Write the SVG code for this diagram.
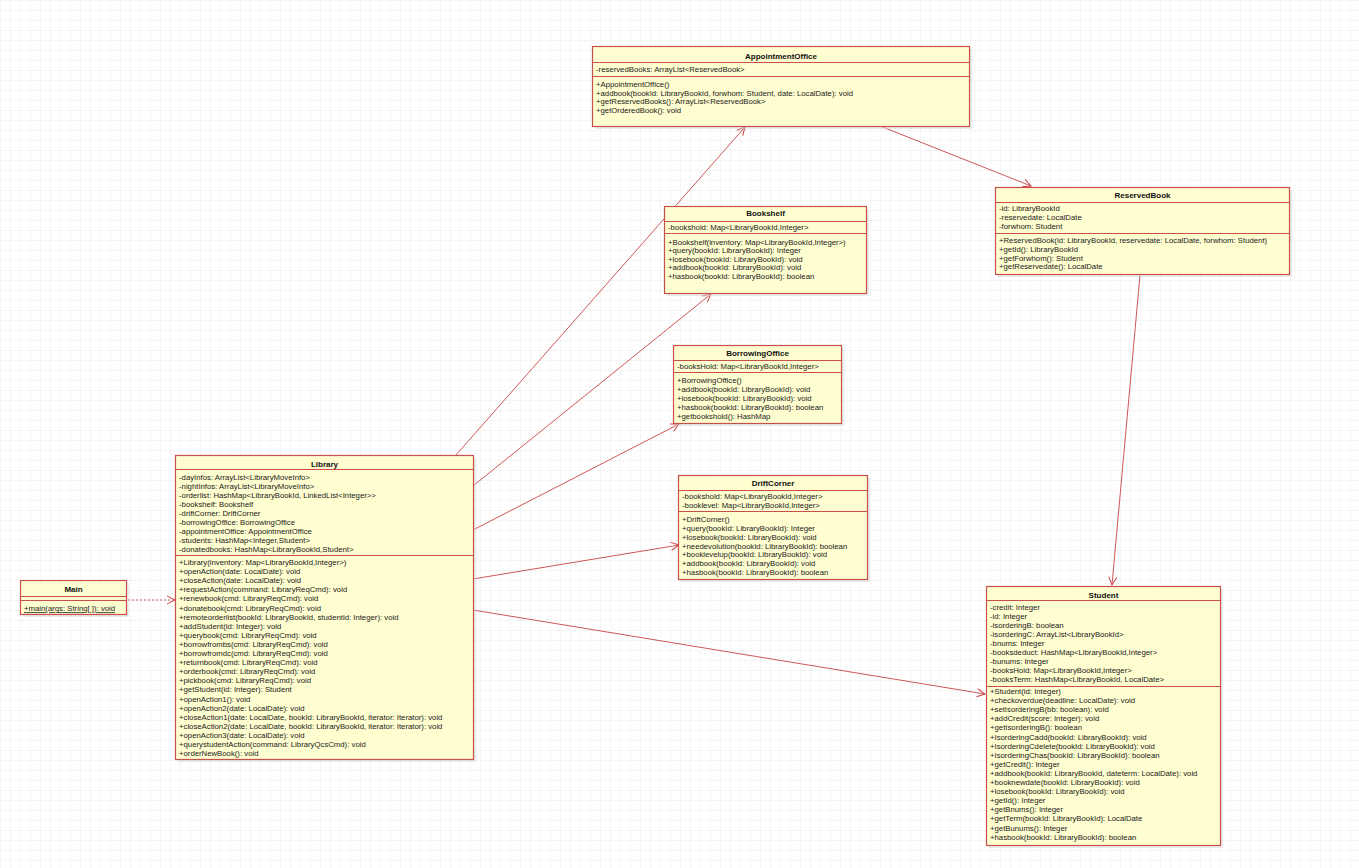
<svg xmlns="http://www.w3.org/2000/svg" width="1359" height="868" viewBox="0 0 1359 868">
<defs>
<pattern id="grid" width="10" height="10" patternUnits="userSpaceOnUse">
<path d="M10 0 L0 0 0 10" fill="none" stroke="#ececec" stroke-width="1"/>
</pattern>
<marker id="open" markerWidth="12" markerHeight="12" refX="9" refY="5" orient="auto" markerUnits="userSpaceOnUse">
<path d="M1 1 L9 5 L1 9" fill="none" stroke="#cc4444" stroke-width="1"/>
</marker>
<style>
.box{fill:#fffed0;stroke:#c94f4f;stroke-width:1.2}
.shadow{fill:#d8d8d8;opacity:0.5}
.sep{stroke:#c94f4f;stroke-width:1}
.t{font-family:"Liberation Sans",Arial,sans-serif;font-size:7.75px;fill:#1a1a1a}
.h{font-family:"Liberation Sans",Arial,sans-serif;font-size:8px;font-weight:bold;fill:#111;text-anchor:middle}
.edge{fill:none;stroke:#cc4444;stroke-width:0.9}
.dash{stroke-dasharray:2,2}
</style>
</defs>
<rect width="1359" height="868" fill="#ffffff"/>
<rect width="1359" height="868" fill="url(#grid)"/>

<g id="connectors">
<line class="edge" x1="456" y1="455" x2="745" y2="127" marker-end="url(#open)"/>
<line class="edge" x1="473" y1="486" x2="711" y2="294" marker-end="url(#open)"/>
<line class="edge" x1="473" y1="530" x2="679" y2="424" marker-end="url(#open)"/>
<line class="edge" x1="473" y1="579" x2="679" y2="545" marker-end="url(#open)"/>
<line class="edge" x1="473" y1="610" x2="985" y2="694" marker-end="url(#open)"/>
<line class="edge" x1="880" y1="126" x2="1031" y2="186" marker-end="url(#open)"/>
<line class="edge" x1="1140" y1="275" x2="1112" y2="585" marker-end="url(#open)"/>
<line class="edge dash" x1="128" y1="600" x2="175" y2="600" marker-end="url(#open)"/>
</g>

<g id="AppointmentOffice">
<rect class="shadow" x="595" y="49" width="377" height="80"/>
<rect class="box" x="592.5" y="46.5" width="377" height="80"/>
<text class="h" x="781" y="58.5">AppointmentOffice</text>
<line class="sep" x1="592.5" y1="62.5" x2="969.5" y2="62.5"/>
<text class="t" x="596" y="71.7">-reservedBooks: ArrayList&lt;ReservedBook&gt;</text>
<line class="sep" x1="592.5" y1="76.5" x2="969.5" y2="76.5"/>
<text class="t" x="596" y="86.7">+AppointmentOffice()</text>
<text class="t" x="596" y="95.7">+addbook(bookId: LibraryBookId, forwhom: Student, date: LocalDate): void</text>
<text class="t" x="596" y="104.4">+getReservedBooks(): ArrayList&lt;ReservedBook&gt;</text>
<text class="t" x="596" y="113">+getOrderedBook(): void</text>
</g>

<g id="ReservedBook">
<rect class="shadow" x="998" y="190" width="294" height="87"/>
<rect class="box" x="995.5" y="187.5" width="294" height="87"/>
<text class="h" x="1142.5" y="197.5">ReservedBook</text>
<line class="sep" x1="995.5" y1="202.5" x2="1289.5" y2="202.5"/>
<text class="t" x="999" y="210.7">-id: LibraryBookId</text>
<text class="t" x="999" y="219.7">-reservedate: LocalDate</text>
<text class="t" x="999" y="228.7">-forwhom: Student</text>
<line class="sep" x1="995.5" y1="233.5" x2="1289.5" y2="233.5"/>
<text class="t" x="999" y="243.4">+ReservedBook(id: LibraryBookId, reservedate: LocalDate, forwhom: Student)</text>
<text class="t" x="999" y="252">+getId(): LibraryBookId</text>
<text class="t" x="999" y="260.7">+getForwhom(): Student</text>
<text class="t" x="999" y="269.4">+getReservedate(): LocalDate</text>
</g>

<g id="Bookshelf">
<rect class="shadow" x="667" y="209" width="202" height="87"/>
<rect class="box" x="664.5" y="206.5" width="202" height="87"/>
<text class="h" x="765.5" y="215.8">Bookshelf</text>
<line class="sep" x1="664.5" y1="221.5" x2="866.5" y2="221.5"/>
<text class="t" x="668" y="229.7">-bookshold: Map&lt;LibraryBookId,Integer&gt;</text>
<line class="sep" x1="664.5" y1="233.5" x2="866.5" y2="233.5"/>
<text class="t" x="668" y="244.7">+Bookshelf(inventory: Map&lt;LibraryBookId,Integer&gt;)</text>
<text class="t" x="668" y="253">+query(bookId: LibraryBookId): Integer</text>
<text class="t" x="668" y="261.7">+losebook(bookId: LibraryBookId): void</text>
<text class="t" x="668" y="270.4">+addbook(bookId: LibraryBookId): void</text>
<text class="t" x="668" y="279">+hasbook(bookId: LibraryBookId): boolean</text>
</g>

<g id="BorrowingOffice">
<rect class="shadow" x="676" y="348" width="168" height="78"/>
<rect class="box" x="673.5" y="345.5" width="168" height="78"/>
<text class="h" x="757.5" y="355.8">BorrowingOffice</text>
<line class="sep" x1="673.5" y1="360.5" x2="841.5" y2="360.5"/>
<text class="t" x="677" y="368.7">-booksHold: Map&lt;LibraryBookId,Integer&gt;</text>
<line class="sep" x1="673.5" y1="372.5" x2="841.5" y2="372.5"/>
<text class="t" x="677" y="383.4">+BorrowingOffice()</text>
<text class="t" x="677" y="391.7">+addbook(bookId: LibraryBookId): void</text>
<text class="t" x="677" y="400.7">+losebook(bookId: LibraryBookId): void</text>
<text class="t" x="677" y="409.7">+hasbook(bookId: LibraryBookId): boolean</text>
<text class="t" x="677" y="418.7">+getbookshold(): HashMap</text>
</g>

<g id="DriftCorner">
<rect class="shadow" x="681" y="478" width="189" height="104"/>
<rect class="box" x="678.5" y="475.5" width="189" height="104"/>
<text class="h" x="773" y="485.5">DriftCorner</text>
<line class="sep" x1="678.5" y1="490.5" x2="867.5" y2="490.5"/>
<text class="t" x="682" y="498.7">-bookshold: Map&lt;LibraryBookId,Integer&gt;</text>
<text class="t" x="682" y="507.7">-booklevel: Map&lt;LibraryBookId,Integer&gt;</text>
<line class="sep" x1="678.5" y1="511.5" x2="867.5" y2="511.5"/>
<text class="t" x="682" y="521.7">+DriftCorner()</text>
<text class="t" x="682" y="530.7">+query(bookId: LibraryBookId): Integer</text>
<text class="t" x="682" y="539.7">+losebook(bookId: LibraryBookId): void</text>
<text class="t" x="682" y="548.7">+needevolution(bookId: LibraryBookId): boolean</text>
<text class="t" x="682" y="557.4">+booklevelup(bookId: LibraryBookId): void</text>
<text class="t" x="682" y="566.4">+addbook(bookId: LibraryBookId): void</text>
<text class="t" x="682" y="575.4">+hasbook(bookId: LibraryBookId): boolean</text>
</g>

<g id="Library">
<rect class="shadow" x="178" y="458" width="298" height="304"/>
<rect class="box" x="175.5" y="455.5" width="298" height="304"/>
<text class="h" x="324.5" y="466.5">Library</text>
<line class="sep" x1="175.5" y1="469.5" x2="473.5" y2="469.5"/>
<text class="t" x="179" y="480">-dayInfos: ArrayList&lt;LibraryMoveInfo&gt;</text>
<text class="t" x="179" y="489">-nightInfos: ArrayList&lt;LibraryMoveInfo&gt;</text>
<text class="t" x="179" y="498">-orderlist: HashMap&lt;LibraryBookId, LinkedList&lt;Integer&gt;&gt;</text>
<text class="t" x="179" y="507">-bookshelf: Bookshelf</text>
<text class="t" x="179" y="516">-driftCorner: DriftCorner</text>
<text class="t" x="179" y="525">-borrowingOffice: BorrowingOffice</text>
<text class="t" x="179" y="534.2">-appointmentOffice: AppointmentOffice</text>
<text class="t" x="179" y="543.3">-students: HashMap&lt;Integer,Student&gt;</text>
<text class="t" x="179" y="552.4">-donatedbooks: HashMap&lt;LibraryBookId,Student&gt;</text>
<line class="sep" x1="175.5" y1="555.5" x2="473.5" y2="555.5"/>
<text class="t" x="179" y="565">+Library(inventory: Map&lt;LibraryBookId,Integer&gt;)</text>
<text class="t" x="179" y="574.1">+openAction(date: LocalDate): void</text>
<text class="t" x="179" y="583.2">+closeAction(date: LocalDate): void</text>
<text class="t" x="179" y="592.3">+requestAction(command: LibraryReqCmd): void</text>
<text class="t" x="179" y="601.4">+renewbook(cmd: LibraryReqCmd): void</text>
<text class="t" x="179" y="610.5">+donatebook(cmd: LibraryReqCmd): void</text>
<text class="t" x="179" y="619.6">+remoteorderlist(bookId: LibraryBookId, studentid: Integer): void</text>
<text class="t" x="179" y="628.7">+addStudent(id: Integer): void</text>
<text class="t" x="179" y="637.8">+querybook(cmd: LibraryReqCmd): void</text>
<text class="t" x="179" y="646.9">+borrowfrombs(cmd: LibraryReqCmd): void</text>
<text class="t" x="179" y="656">+borrowfromdc(cmd: LibraryReqCmd): void</text>
<text class="t" x="179" y="665.1">+returnbook(cmd: LibraryReqCmd): void</text>
<text class="t" x="179" y="674.2">+orderbook(cmd: LibraryReqCmd): void</text>
<text class="t" x="179" y="683.3">+pickbook(cmd: LibraryReqCmd): void</text>
<text class="t" x="179" y="692.4">+getStudent(id: Integer): Student</text>
<text class="t" x="179" y="701.5">+openAction1(): void</text>
<text class="t" x="179" y="710.6">+openAction2(date: LocalDate): void</text>
<text class="t" x="179" y="719.7">+closeAction1(date: LocalDate, bookId: LibraryBookId, iterator: Iterator): void</text>
<text class="t" x="179" y="728.8">+closeAction2(date: LocalDate, bookId: LibraryBookId, iterator: Iterator): void</text>
<text class="t" x="179" y="737.9">+openAction3(date: LocalDate): void</text>
<text class="t" x="179" y="747">+querystudentAction(command: LibraryQcsCmd): void</text>
<text class="t" x="179" y="756.1">+orderNewBook(): void</text>
</g>

<g id="Main">
<rect class="shadow" x="23" y="583" width="106" height="34"/>
<rect class="box" x="20.5" y="580.5" width="106" height="34"/>
<text class="h" x="73.5" y="591.5">Main</text>
<line class="sep" x1="20.5" y1="596.5" x2="126.5" y2="596.5"/>
<line class="sep" x1="20.5" y1="600.5" x2="126.5" y2="600.5"/>
<text class="t" x="24" y="611.3" text-decoration="underline">+main(args: String[ ]): void</text>
</g>

<g id="Student">
<rect class="shadow" x="989" y="589" width="234" height="259"/>
<rect class="box" x="986.5" y="586.5" width="234" height="259"/>
<text class="h" x="1103.5" y="597.5">Student</text>
<line class="sep" x1="986.5" y1="600.5" x2="1220.5" y2="600.5"/>
<text class="t" x="990" y="609.7">-credit: Integer</text>
<text class="t" x="990" y="618.7">-id: Integer</text>
<text class="t" x="990" y="627.7">-isorderingB: boolean</text>
<text class="t" x="990" y="636.7">-isorderingC: ArrayList&lt;LibraryBookId&gt;</text>
<text class="t" x="990" y="645.7">-bnums: Integer</text>
<text class="t" x="990" y="654.7">-booksdeduct: HashMap&lt;LibraryBookId,Integer&gt;</text>
<text class="t" x="990" y="663.7">-bunums: Integer</text>
<text class="t" x="990" y="672.7">-booksHold: Map&lt;LibraryBookId,Integer&gt;</text>
<text class="t" x="990" y="681.7">-booksTerm: HashMap&lt;LibraryBookId, LocalDate&gt;</text>
<line class="sep" x1="986.5" y1="686.5" x2="1220.5" y2="686.5"/>
<text class="t" x="990" y="694">+Student(id: Integer)</text>
<text class="t" x="990" y="703.1">+checkoverdue(deadline: LocalDate): void</text>
<text class="t" x="990" y="712.2">+setIsorderingB(bb: boolean): void</text>
<text class="t" x="990" y="721.3">+addCredit(score: Integer): void</text>
<text class="t" x="990" y="730.4">+getIsorderingB(): boolean</text>
<text class="t" x="990" y="739.5">+IsorderingCadd(bookId: LibraryBookId): void</text>
<text class="t" x="990" y="748.6">+IsorderingCdelete(bookId: LibraryBookId): void</text>
<text class="t" x="990" y="757.7">+IsorderingChas(bookId: LibraryBookId): boolean</text>
<text class="t" x="990" y="766.8">+getCredit(): Integer</text>
<text class="t" x="990" y="775.9">+addbook(bookId: LibraryBookId, dateterm: LocalDate): void</text>
<text class="t" x="990" y="785">+booknewdate(bookId: LibraryBookId): void</text>
<text class="t" x="990" y="794.1">+losebook(bookId: LibraryBookId): void</text>
<text class="t" x="990" y="803.2">+getId(): Integer</text>
<text class="t" x="990" y="812.3">+getBnums(): Integer</text>
<text class="t" x="990" y="821.4">+getTerm(bookId: LibraryBookId): LocalDate</text>
<text class="t" x="990" y="830.5">+getBunums(): Integer</text>
<text class="t" x="990" y="839.6">+hasbook(bookId: LibraryBookId): boolean</text>
</g>
</svg>
